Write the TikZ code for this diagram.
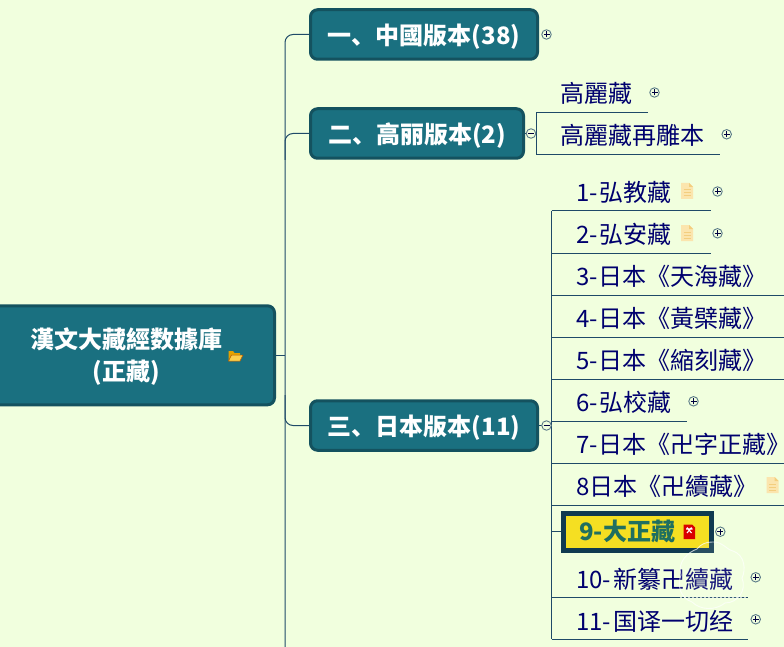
\documentclass[tikz,border=0pt]{standalone}
\usepackage{fontspec}
\setmainfont{Noto Sans CJK TC}
\newfontfamily\scf{Noto Sans CJK SC}
\definecolor{bgc}{HTML}{F1FFDE}
\definecolor{boxf}{HTML}{1A7080}
\definecolor{boxd}{HTML}{14525F}
\definecolor{conn}{HTML}{1F4A68}
\definecolor{leafc}{HTML}{00006E}
\definecolor{togc}{HTML}{5A7A88}
\definecolor{hilf}{HTML}{F5DF22}
\definecolor{hild}{HTML}{103A50}
\definecolor{hilt}{HTML}{1F6F60}
\definecolor{docf}{HTML}{FBE5AE}
\definecolor{docl}{HTML}{F3CE7E}
\tikzset{
  topicbox/.style={draw=boxd,fill=boxf,line width=3pt,rounded corners=7pt,text=white,font=\fontsize{24}{32}\selectfont\bfseries,inner sep=0pt,minimum height=49.5pt,text height=20pt,text depth=0pt},
  leaf/.style={anchor=base west,text=leafc,font=\fontsize{24}{32}\selectfont,inner sep=0pt},
  wire/.style={draw=conn,line width=1pt},
  toggle/.style={circle,draw=togc,fill=bgc,line width=0.9pt,minimum size=9.5pt,inner sep=0pt},
  sign/.style={draw=black!75!blue,line width=0.7pt}
}
\newcommand{\togplus}[2]{\node[toggle] (#1) at (#2) {}; \draw[sign] ([xshift=-3pt]#1.center) -- ([xshift=3pt]#1.center) ([yshift=-3pt]#1.center) -- ([yshift=3pt]#1.center);}
\newcommand{\togminus}[2]{\node[toggle] (#1) at (#2) {}; \draw[sign] ([xshift=-3pt]#1.center) -- ([xshift=3pt]#1.center);}
\newcommand{\docicon}[2]{\begin{scope}[shift={(#1,#2)}]
  \fill[docf] (-6,-8) -- (2,-8) -- (6,-4) -- (6,8) -- (-6,8) -- cycle;
  \draw[docl,line width=1pt] (-3.5,-1) -- (3.5,-1) (-3.5,2) -- (3.5,2) (-3.5,5) -- (3.5,5);
  \fill[docl] (2,-8) -- (6,-4) -- (2,-4) -- cycle;
\end{scope}}
\newcommand{\dunhao}{{\scf 、}}
\begin{document}
\begin{tikzpicture}[x=1pt,y=-1pt]
\useasboundingbox (0,0) rectangle (784,647);
\clip (0,0) rectangle (784,647);
\fill[bgc] (0,0) rectangle (784,647);
% topics
\node[topicbox,minimum width=283pt,minimum height=99pt] (root) at (133,355.3) {};
\node[text=white,font=\fontsize{24}{32}\selectfont\bfseries,align=center,inner sep=0pt] (roottext) at (126.5,357) {漢文大藏經数據庫\\(正藏)};
\node[topicbox,minimum width=227pt] (one) at (424,34.5) {一\dunhao 中國版本(38)};
\node[topicbox,minimum width=213pt] (two) at (417,133.5) {二\dunhao 高丽版本(2)};
\node[topicbox,minimum width=227pt] (three) at (424,425.5) {三\dunhao 日本版本(11)};
% trunk
\coordinate (trunkend) at (285,647);
\coordinate (trunkb) at (285,160);
\coordinate (trunkc) at (285,395);
\draw[wire,rounded corners=8pt] (one.west) -| (trunkend);
\draw[wire,rounded corners=8pt] (two.west) -| (trunkb);
\draw[wire,rounded corners=8pt] (three.west) -| (trunkc);
\draw[wire] (root.east) -- (root.east -| trunkend);
% second-level leaves
\node[leaf] (g1) at (560,103) {高麗藏};
\node[leaf] (g2) at (560,144.5) {高麗藏再雕本};
\coordinate (gu1) at (648,112.5);
\coordinate (gu2) at (720,154.5);
\coordinate (gc) at (536.5,133.5);
\draw[wire] (two.east) -- (gc);
\draw[wire] (gu1) -- (gu1 -| gc) -- (gu2 -| gc) -- (gu2);
% Japanese leaves
\node[leaf] (n1) at (576,201) {1-\kern2pt 弘教藏};
\node[leaf] (n2) at (576,243) {2-\kern2pt 弘安藏};
\node[leaf] (n3) at (576,285) {3-\kern1pt 日本《天海藏》};
\node[leaf] (n4) at (576,327) {4-\kern1pt 日本《黃檗藏》};
\node[leaf] (n5) at (576,369) {5-\kern1pt 日本《縮刻藏》};
\node[leaf] (n6) at (576,411) {6-\kern2pt 弘校藏};
\node[leaf] (n7) at (576,453) {7-\kern1pt 日本《卍字正藏》\kern-10pt};
\node[leaf] (n8) at (576,495) {8日本《卍續藏》};
\node[leaf] (n10) at (576,588) {10-\kern2pt 新纂卍續藏};
\node[leaf] (n11) at (576,630) {11-\kern2pt 国译一切经};
\node[draw=hild,fill=hilf,line width=5pt,minimum width=148pt,minimum height=37pt,inner sep=0pt,text=hilt,font=\fontsize{24}{32}\selectfont\bfseries] (n9) at (637.5,531.5) {9-\kern1pt 大正藏\kern20pt};
% underlines
\coordinate (v) at (551.5,425.5);
\coordinate (vtop) at (551.5,211);
\coordinate (vbot) at (551.5,639);
\draw[wire] (three.east) -- (v);
\draw[wire] (vtop) -- (vbot);
\foreach \yy/\xx in {211/711,253/711,295/784,337/784,379/784,421/687,463/784,505/784,597/748,639/748}{
  \coordinate (u) at (\xx,\yy);
  \draw[wire] (u -| vtop) -- (u);
}
\draw[wire] (n9.west -| vtop) -- (n9.west);
% toggles
\togplus{ta}{546.5,34.5}
\togminus{tb}{531,133.5}
\togminus{tc}{546.5,425.5}
\togplus{p1}{654.5,92.5}
\togplus{p2}{726.7,134.3}
\togplus{p3}{717.5,191.5}
\togplus{p4}{717.5,233.3}
\togplus{p5}{693.5,401.3}
\togplus{p6}{720.3,531.7}
\togplus{p7}{755.7,577.3}
\togplus{p8}{755.7,619.3}
% note icons
\docicon{687}{191}
\docicon{687}{233}
\docicon{772.5}{485}
% pdf icon
\fill[red!85!black] (683.5,524.5) -- (692,524.5) -- (695,527.5) -- (695,539) -- (683.5,539) -- cycle;
\draw[white,line width=1.1pt] (686,529) -- (692.5,529) (687,527.5) -- (691.5,533) (691.5,527.5) -- (687,533);
% folder icon
\fill[orange!60!yellow!90!black] (228.5,351) -- (233,351) -- (234.5,353) -- (240,353) -- (240,361) -- (228.5,361) -- cycle;
\fill[yellow!50!orange!70!white,draw=orange!70!black,line width=0.5pt] (228.5,361) -- (231.5,355) -- (243,355) -- (240,361) -- cycle;
% watermark
\fill[white,opacity=0.1] (712,542) .. controls (722,541) and (727,550) .. (733,551) .. controls (745,555) and (746,570) .. (742,578) .. controls (747,590) and (738,603) .. (725,603) .. controls (715,611) and (700,610) .. (692,602) .. controls (680,598) and (677,585) .. (681,575) .. controls (677,562) and (688,552) .. (697,549) .. controls (701,544) and (706,542) .. (712,542) -- cycle;
\draw[white,opacity=0.7,line width=0.9pt] (712,542) .. controls (722,541) and (727,550) .. (733,551) .. controls (745,555) and (746,570) .. (742,578) .. controls (747,590) and (738,603) .. (725,603) .. controls (715,611) and (700,610) .. (692,602) .. controls (680,598) and (677,585) .. (681,575) .. controls (677,562) and (688,552) .. (697,549) .. controls (701,544) and (706,542) .. (712,542) -- cycle;
\draw[white,opacity=0.7,line width=0.9pt,dash pattern=on 2pt off 2pt] (680,597) -- (748,597);
\end{tikzpicture}
\end{document}
